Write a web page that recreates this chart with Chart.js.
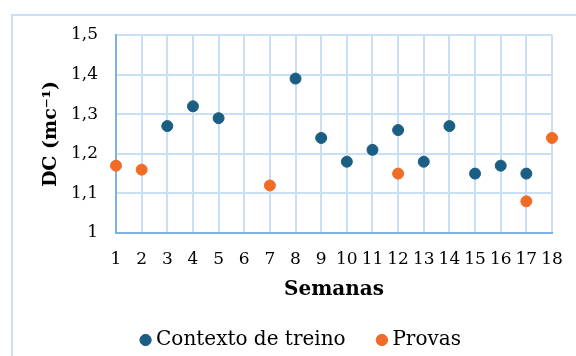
<!DOCTYPE html>
<html>
<head>
<meta charset="utf-8">
<script src="https://cdn.jsdelivr.net/npm/chart.js@4/dist/chart.umd.min.js"></script>
<style>
  html, body { margin: 0; padding: 0; background: #fff; }
  #wrap { position: relative; width: 576px; height: 356px; }
</style>
</head>
<body>
<div id="wrap"><canvas id="myChart" width="576" height="356"></canvas></div>
<script>
// weeks and DC values per series
var treinoWeeks = [3, 4, 5, 8, 9, 10, 11, 12, 13, 14, 15, 16, 17];
var treinoValues = [1.27, 1.32, 1.29, 1.39, 1.24, 1.18, 1.21, 1.26, 1.18, 1.27, 1.15, 1.17, 1.15];
var provasWeeks = [1, 2, 7, 12, 17, 18];
var provasValues = [1.17, 1.16, 1.12, 1.15, 1.08, 1.24];
var yTicks = [1, 1.1, 1.2, 1.3, 1.4, 1.5];

var fontFamily = "'DejaVu Serif', 'Liberation Serif', serif";
var gridColor = "#c9dff5";
var axisColor = "#7fb0e2";

function toPoints(xs, ys){
    return xs.map(function(x, i){ return {x: x, y: ys[i]}; });
}

// light blue frame around the whole chart
var framePlugin = {
    id: "frame",
    beforeDraw: function(chart){
        var c = chart.ctx;
        c.save();
        c.strokeStyle = "#c9dff5";
        c.lineWidth = 2;
        c.strokeRect(12, 15, 600, 400);
        c.restore();
    }
};

var ctx = document.getElementById("myChart").getContext("2d");

var myChart = new Chart(ctx, {
    type: "scatter",
    data: {
        datasets: [
            {
                // trailing spaces keep the gap between the two legend items
                label: "Contexto de treino     ",
                data: toPoints(treinoWeeks, treinoValues),
                backgroundColor: "#1b5e84",
                borderColor: "#1b5e84",
                pointRadius: 5.5,
                clip: false
            },
            {
                label: "Provas",
                data: toPoints(provasWeeks, provasValues),
                backgroundColor: "#f06b26",
                borderColor: "#f06b26",
                pointRadius: 5.5,
                clip: false
            }
        ]
    },
    options: {
        responsive: false,
        animation: false,
        layout: {
            padding: {left: 40, right: 10, top: 35, bottom: -4}
        },
        plugins: {
            tooltip: {enabled: false},
            legend: {
                position: "bottom",
                labels: {
                    usePointStyle: true,
                    pointStyle: "circle",
                    boxWidth: 1,
                    boxHeight: 8,
                    padding: 4,
                    color: "#000",
                    font: {family: fontFamily, size: 20}
                }
            }
        },
        scales: {
            x: {
                type: "linear",
                min: 1,
                max: 18,
                afterBuildTicks: function(scale){
                    scale.ticks = [];
                    for (var i = 1; i <= 18; i++) scale.ticks.push({value: i});
                },
                afterFit: function(scale){
                    scale.height = 93;
                    scale.paddingLeft = 0;
                    scale.paddingRight = 24;
                },
                grid: {color: gridColor, lineWidth: 2, drawTicks: false},
                border: {color: axisColor, width: 2},
                ticks: {
                    padding: 16,
                    color: "#000",
                    maxRotation: 0,
                    autoSkip: false,
                    font: {family: fontFamily, size: 17}
                },
                title: {
                    display: true,
                    text: "Semanas",
                    color: "#000",
                    padding: {top: 0, bottom: 24},
                    font: {family: fontFamily, size: 20, weight: "bold"}
                }
            },
            y: {
                min: 1,
                max: 1.5,
                afterBuildTicks: function(scale){
                    scale.ticks = yTicks.map(function(v){ return {value: v}; });
                },
                afterFit: function(scale){ scale.width = 76; },
                grid: {color: gridColor, lineWidth: 2, drawTicks: false},
                border: {color: axisColor, width: 2},
                ticks: {
                    padding: 18,
                    color: "#000",
                    font: {family: fontFamily, size: 17},
                    callback: function(v){
                        return String(Math.round(v * 10) / 10).replace(".", ",");
                    }
                },
                title: {
                    display: true,
                    text: "DC (mc\u207B\u00B9)",
                    color: "#000",
                    padding: 0,
                    font: {family: fontFamily, size: 19, weight: "bold"}
                }
            }
        }
    },
    plugins: [framePlugin]
});
</script>
</body>
</html>
